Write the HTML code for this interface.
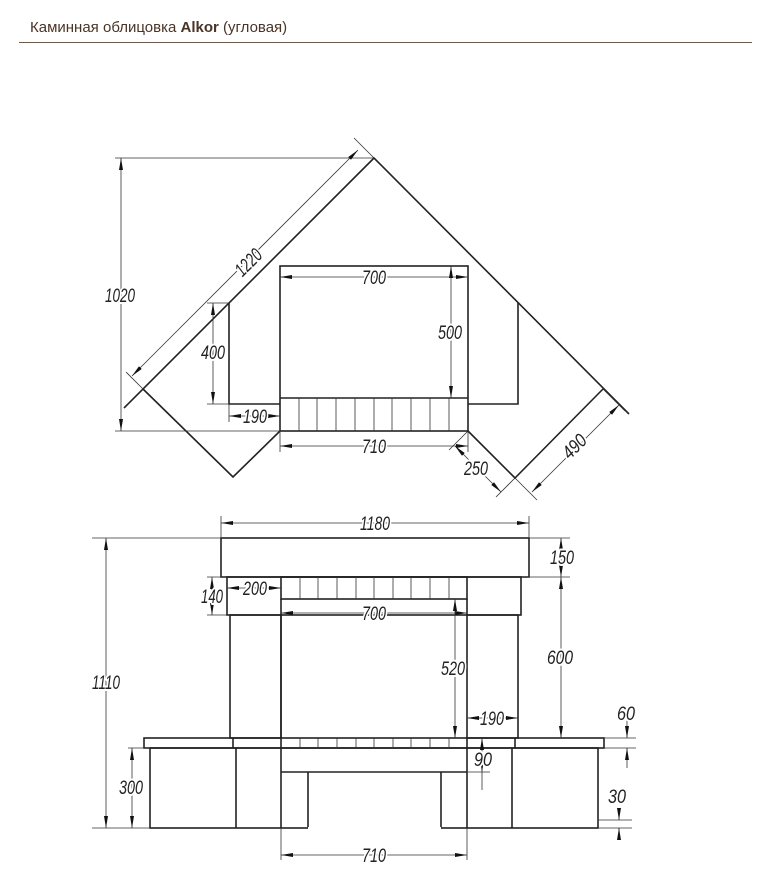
<!DOCTYPE html>
<html><head><meta charset="utf-8"><style>
html,body{margin:0;padding:0;background:#fff;width:770px;height:891px;overflow:hidden}
svg{display:block}
.h{font-family:"Liberation Sans","DejaVu Sans",sans-serif;font-size:15px;fill:#4a3426}
.t{font-family:"Liberation Sans","DejaVu Sans",sans-serif;font-style:italic;font-size:19px;fill:#222;stroke:#fff;stroke-width:4px;paint-order:stroke;stroke-linejoin:round}
.m{stroke:#222;stroke-width:1.6;fill:none}
.n{stroke:#333;stroke-width:0.8;fill:none}
.d{stroke:#333;stroke-width:0.8;fill:none;marker-start:url(#a);marker-end:url(#a)}
</style></head><body>
<svg width="770" height="891" viewBox="0 0 770 891" xmlns="http://www.w3.org/2000/svg">
<defs>
<marker id="a" viewBox="0 0 12 6" refX="12" refY="3" markerWidth="12" markerHeight="6" markerUnits="userSpaceOnUse" orient="auto-start-reverse">
<path d="M0,1 L12,3 L0,5 z" fill="#111"/>
</marker>
</defs>
<text class="h" x="30" y="32">Каминная облицовка <tspan font-weight="bold">Alkor</tspan> (угловая)</text>
<line x1="19" y1="42.5" x2="752" y2="42.5" stroke="#6e5a4c" stroke-width="1"/>

<!-- TOP VIEW -->
<g class="m">
<polyline points="124,408 374,158 629,414"/>
<polyline points="143,389 233,477 280,431"/>
<polyline points="468,431 515,478 603,389"/>
<polyline points="229,303 229,404 280,404"/>
<polyline points="518,303 518,404 468,404"/>
<rect x="280" y="266" width="188" height="165"/>
<line x1="280" y1="398" x2="468" y2="398"/>
</g>
<g class="n">
<path d="M299,398V431M317,398V431M336,398V431M355,398V431M374,398V431M392,398V431M411,398V431M430,398V431M449,398V431"/>
<line x1="115" y1="158" x2="374" y2="158"/>
<line x1="115" y1="431" x2="280" y2="431"/>
<line x1="374" y1="158" x2="354" y2="138"/>
<line x1="143" y1="389" x2="126" y2="372"/>
<line x1="207" y1="303" x2="229" y2="303"/>
<line x1="207" y1="404" x2="229" y2="404"/>
<line x1="229" y1="404" x2="229" y2="422"/>
<line x1="280" y1="431" x2="280" y2="452"/>
<line x1="468" y1="431" x2="468" y2="452"/>
<line x1="468" y1="431" x2="449" y2="450"/>
<line x1="515" y1="478" x2="496" y2="497"/>
<line x1="515" y1="478" x2="537" y2="500"/>
<line x1="603" y1="389" x2="625" y2="411"/>
</g>
<g class="d">
<line x1="121" y1="158" x2="121" y2="431"/>
<line x1="132" y1="376" x2="358" y2="150"/>
<line x1="213" y1="303" x2="213" y2="404"/>
<line x1="229" y1="416" x2="280" y2="416"/>
<line x1="280" y1="277" x2="468" y2="277"/>
<line x1="451" y1="266" x2="451" y2="398"/>
<line x1="280" y1="446" x2="468" y2="446"/>
<line x1="455" y1="446" x2="501" y2="492"/>
<line x1="532" y1="492" x2="619" y2="405"/>
</g>
<g class="t" text-anchor="middle">
<text x="120" y="302" textLength="30" lengthAdjust="spacingAndGlyphs">1020</text>
<text transform="translate(248,262) rotate(-45)" y="7" textLength="30" lengthAdjust="spacingAndGlyphs">1220</text>
<text x="213" y="359" textLength="24" lengthAdjust="spacingAndGlyphs">400</text>
<text x="255" y="423" textLength="24" lengthAdjust="spacingAndGlyphs">190</text>
<text x="374" y="284" textLength="24" lengthAdjust="spacingAndGlyphs">700</text>
<text x="450" y="339" textLength="24" lengthAdjust="spacingAndGlyphs">500</text>
<text x="374" y="453" textLength="24" lengthAdjust="spacingAndGlyphs">710</text>
<text x="476" y="475" textLength="24" lengthAdjust="spacingAndGlyphs">250</text>
<text transform="translate(574,446) rotate(-45)" y="7" textLength="26" lengthAdjust="spacingAndGlyphs">490</text>
</g>

<!-- FRONT VIEW -->
<g class="m">
<rect x="221" y="538" width="308" height="39"/>
<rect x="227" y="577" width="294" height="38"/>
<rect x="281" y="577" width="186" height="22"/>
<line x1="281" y1="599" x2="281" y2="615"/><line x1="467" y1="599" x2="467" y2="615"/>
<rect x="230" y="615" width="51" height="123"/>
<rect x="467" y="615" width="51" height="123"/>
<line x1="281" y1="615" x2="281" y2="738"/>
<rect x="144" y="738" width="460" height="10"/>
<path d="M233,738V748M281,738V748M467,738V748M515,738V748"/>
<rect x="150" y="748" width="448" height="80"/>
<path d="M236,748V828M281,748V828M467,748V828M512,748V828"/>
<path d="M281,772H467M308,772V828M441,772V828"/>
<line x1="308" y1="828" x2="441" y2="828" stroke="#fff" stroke-width="2"/>
</g>
<g class="n">
<path d="M300,577V599M318,577V599M337,577V599M356,577V599M374,577V599M393,577V599M411,577V599M430,577V599M449,577V599"/>
<path d="M300,738V748M318,738V748M337,738V748M356,738V748M374,738V748M393,738V748M411,738V748M430,738V748M449,738V748"/>
<line x1="221" y1="516" x2="221" y2="538"/>
<line x1="529" y1="516" x2="529" y2="538"/>
<line x1="92" y1="538" x2="221" y2="538"/>
<line x1="92" y1="828" x2="150" y2="828"/>
<line x1="529" y1="538" x2="570" y2="538"/>
<line x1="521" y1="577" x2="570" y2="577"/>
<line x1="207" y1="577" x2="227" y2="577"/>
<line x1="207" y1="615" x2="230" y2="615"/>
<line x1="128" y1="748" x2="150" y2="748"/>
<line x1="604" y1="738" x2="636" y2="738"/>
<line x1="604" y1="748" x2="636" y2="748"/>
<line x1="598" y1="820" x2="632" y2="820"/>
<line x1="598" y1="828" x2="632" y2="828"/>
<line x1="467" y1="772" x2="490" y2="772"/>
<line x1="281" y1="828" x2="281" y2="860"/>
<line x1="467" y1="828" x2="467" y2="860"/>
<line x1="627" y1="720" x2="627" y2="726"/>
<line x1="627" y1="760" x2="627" y2="768"/>
<line x1="619" y1="828" x2="619" y2="840"/>
<line x1="482" y1="772" x2="482" y2="790"/>
</g>
<g class="d">
<line x1="221" y1="523" x2="529" y2="523"/>
<line x1="106" y1="538" x2="106" y2="828"/>
<line x1="561" y1="538" x2="561" y2="577"/>
<line x1="561" y1="577" x2="561" y2="738"/>
<line x1="212" y1="577" x2="212" y2="615"/>
<line x1="227" y1="588" x2="281" y2="588"/>
<line x1="281" y1="613" x2="467" y2="613"/>
<line x1="455" y1="599" x2="455" y2="738"/>
<line x1="467" y1="718" x2="518" y2="718"/>
<line x1="132" y1="748" x2="132" y2="828"/>
<line x1="281" y1="855" x2="467" y2="855"/>
<line x1="482" y1="738" x2="482" y2="772"/>
<line x1="627" y1="726" x2="627" y2="738" style="marker-start:none"/>
<line x1="627" y1="760" x2="627" y2="748" style="marker-start:none"/>
<line x1="619" y1="808" x2="619" y2="820" style="marker-start:none"/>
<line x1="619" y1="840" x2="619" y2="828" style="marker-start:none"/>
</g>
<g class="t" text-anchor="middle">
<text x="375" y="530" textLength="30" lengthAdjust="spacingAndGlyphs">1180</text>
<text x="562" y="564" textLength="24" lengthAdjust="spacingAndGlyphs">150</text>
<text x="212" y="603" textLength="22" lengthAdjust="spacingAndGlyphs">140</text>
<text x="255" y="595" textLength="24" lengthAdjust="spacingAndGlyphs">200</text>
<text x="374" y="620" textLength="24" lengthAdjust="spacingAndGlyphs">700</text>
<text x="106" y="689" textLength="28" lengthAdjust="spacingAndGlyphs">1110</text>
<text x="453" y="675" textLength="24" lengthAdjust="spacingAndGlyphs">520</text>
<text x="560" y="664" textLength="26" lengthAdjust="spacingAndGlyphs">600</text>
<text x="492" y="725" textLength="24" lengthAdjust="spacingAndGlyphs">190</text>
<text x="626" y="720" textLength="18" lengthAdjust="spacingAndGlyphs">60</text>
<text x="483" y="766" textLength="18" lengthAdjust="spacingAndGlyphs">90</text>
<text x="131" y="794" textLength="24" lengthAdjust="spacingAndGlyphs">300</text>
<text x="617" y="803" textLength="18" lengthAdjust="spacingAndGlyphs">30</text>
<text x="374" y="862" textLength="24" lengthAdjust="spacingAndGlyphs">710</text>
</g>
</svg>
</body></html>
